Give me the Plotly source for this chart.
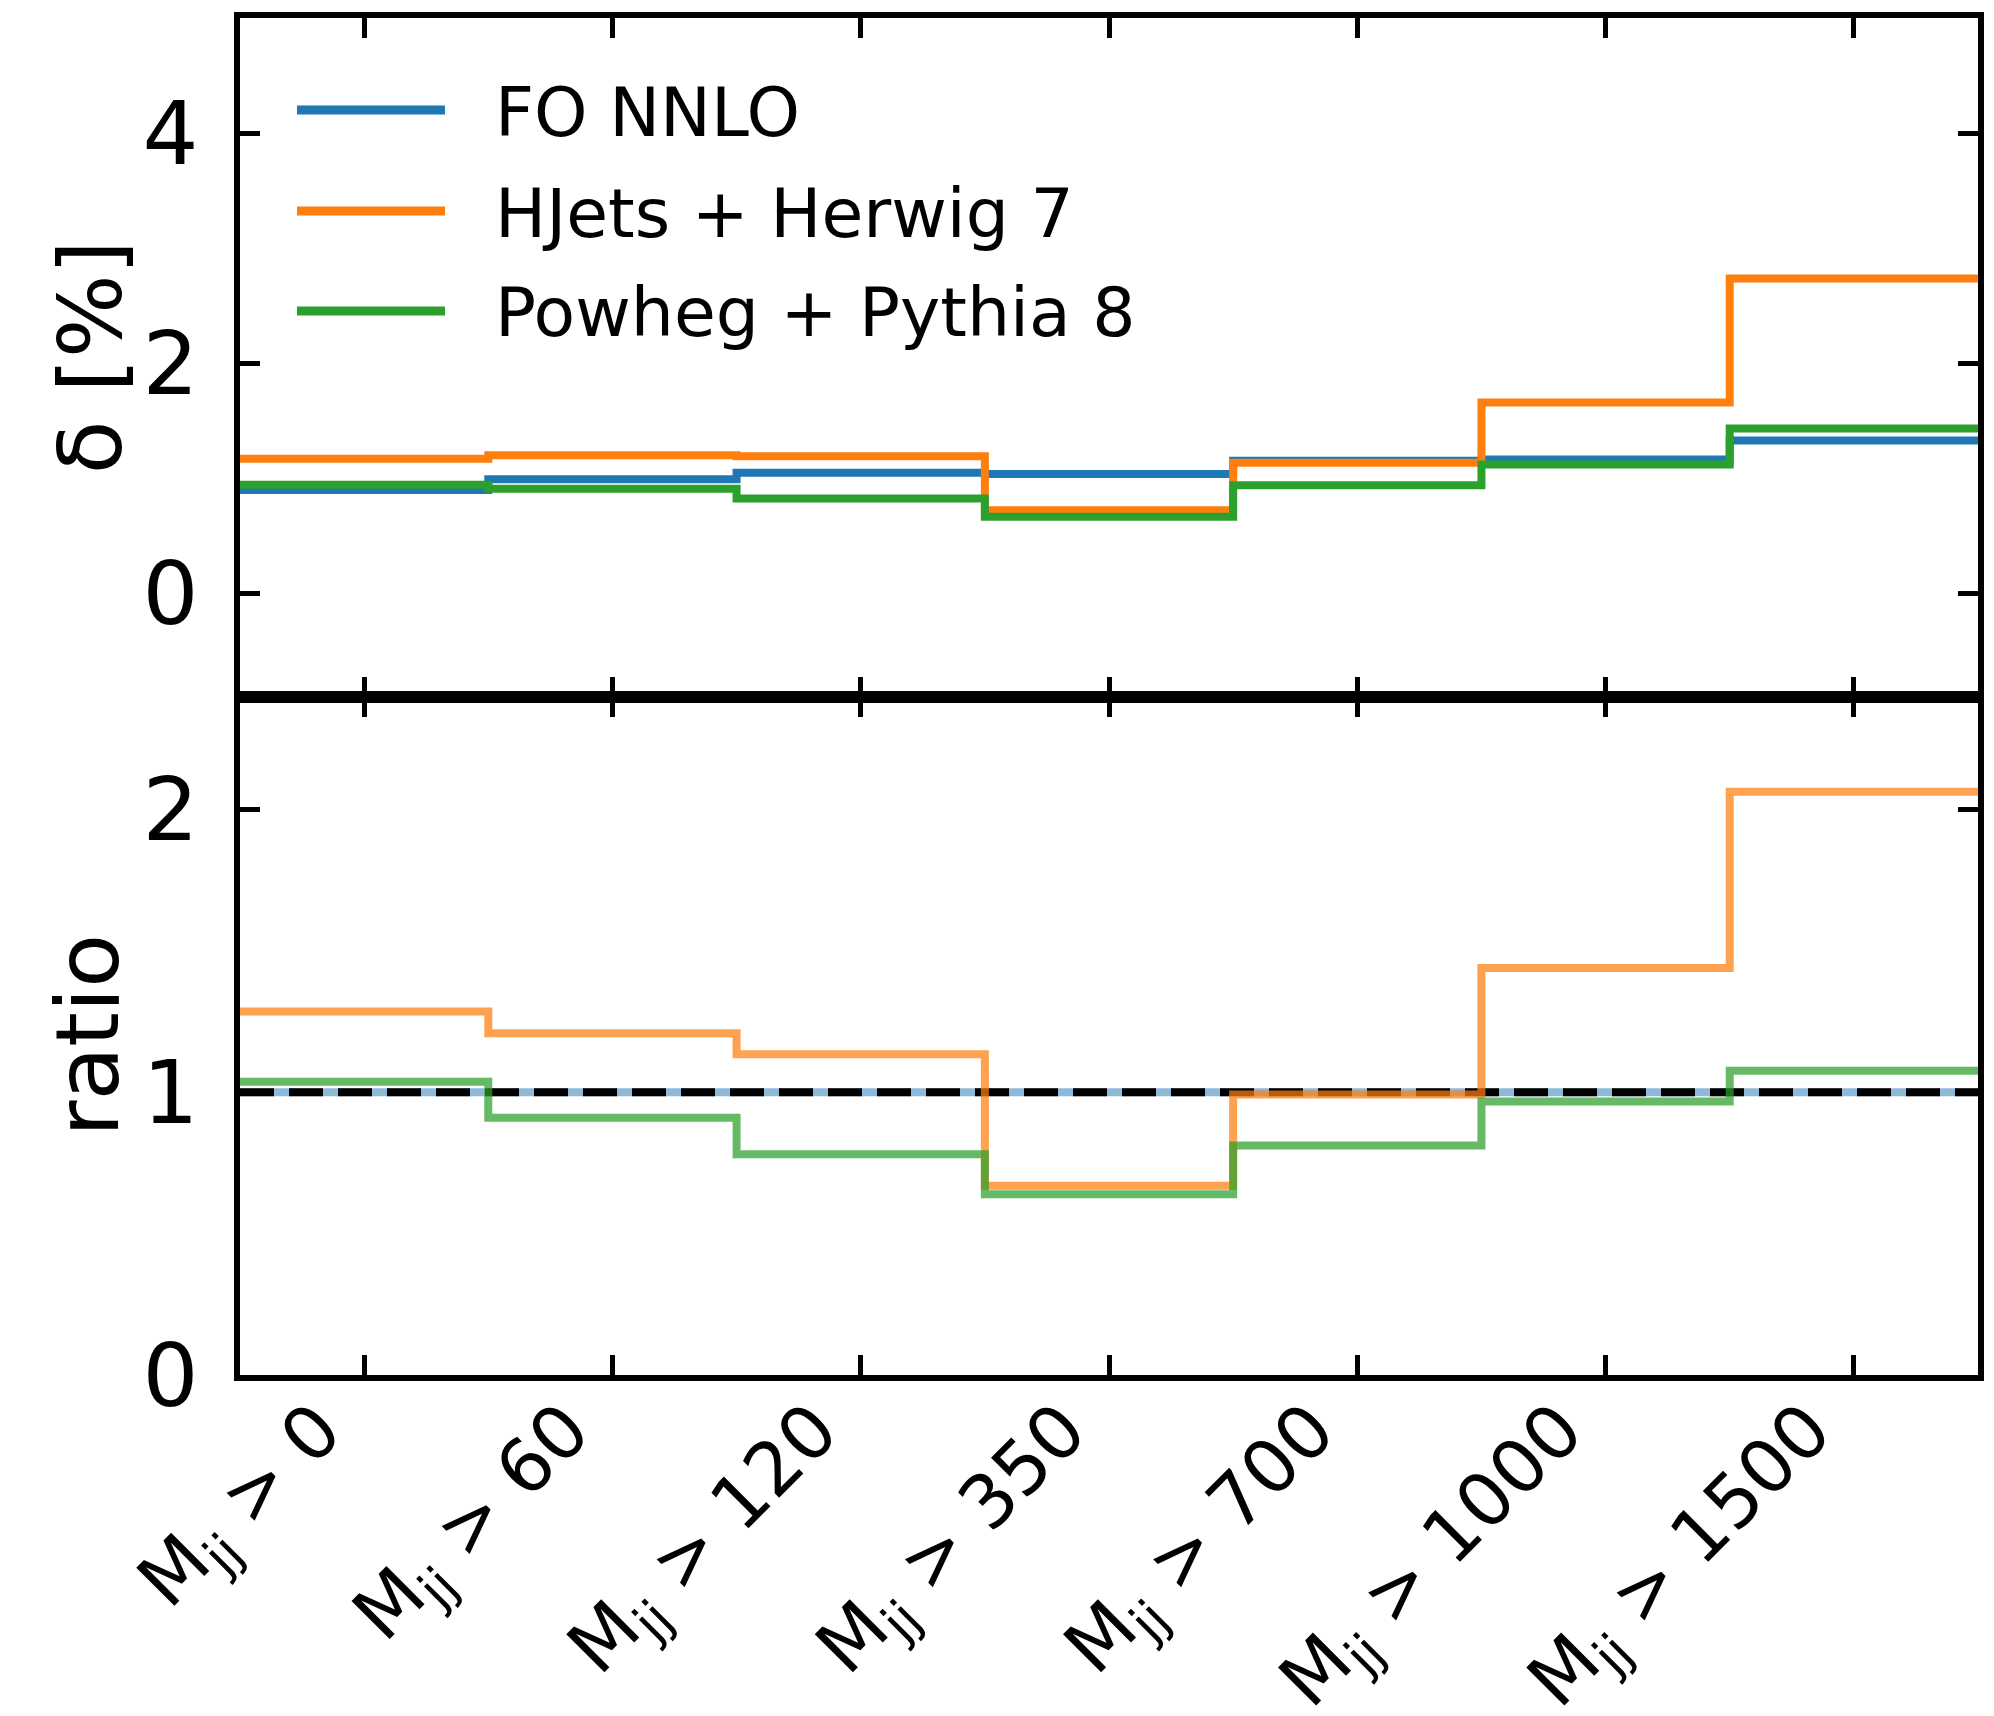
import numpy as np
import plotly.graph_objects as go

# ---------------- data ----------------
cut_values = ["0", "60", "120", "350", "700", "1000", "1500"]
tick_labels = ["M<sub>jj</sub> &gt; " + c for c in cut_values]

series_names = ["FO NNLO", "HJets + Herwig 7", "Powheg + Pythia 8"]

# delta [%]
delta_fo = [0.895, 0.99, 1.046, 1.035, 1.15, 1.16, 1.326]
delta_hjets = [1.167, 1.198, 1.19, 0.72, 1.132, 1.656, 2.735]
delta_powheg = [0.942, 0.907, 0.821, 0.662, 0.938, 1.117, 1.431]

# ratio to FO NNLO
ratio_fo = [1.0, 1.0, 1.0, 1.0, 1.0, 1.0, 1.0]
ratio_hjets = [1.286, 1.209, 1.135, 0.669, 0.992, 1.44, 2.063]
ratio_powheg = [1.037, 0.91, 0.781, 0.639, 0.812, 0.967, 1.076]
ref_level = 1.0

# ---------------- style ----------------
W, H = 1994, 1716
ML, MR, MT, MB = 240, 16, 18, 341
FONT = "DejaVu Sans"
C_BLUE, C_ORANGE, C_GREEN = "#1f77b4", "#ff7f0e", "#2ca02c"
LW = 8

n = len(cut_values)
centers = np.arange(n)
edges = np.concatenate([centers - 0.5, [centers[-1] + 0.5]])


def step_y(vals):
    v = list(vals)
    return v + [v[-1]]


def px_x(px):
    return (px - ML) / (W - ML - MR)


def px_y(py):
    return 1 - (py - MT) / (H - MT - MB)


fig = go.Figure()

# top panel
for vals, col, name in [(delta_fo, C_BLUE, series_names[0]),
                        (delta_hjets, C_ORANGE, series_names[1]),
                        (delta_powheg, C_GREEN, series_names[2])]:
    fig.add_trace(go.Scatter(x=edges, y=step_y(vals), mode="lines",
                             line=dict(color=col, width=LW, shape="hv"),
                             name=name, xaxis="x", yaxis="y", showlegend=False))

# bottom panel
fig.add_trace(go.Scatter(x=edges, y=step_y(ratio_fo), mode="lines",
                         line=dict(color=C_BLUE, width=LW, shape="hv"),
                         opacity=0.5, xaxis="x2", yaxis="y2", showlegend=False))
fig.add_trace(go.Scatter(x=[edges[0], edges[-1]], y=[ref_level, ref_level], mode="lines",
                         line=dict(color="black", width=LW, dash="34px,15px"),
                         xaxis="x2", yaxis="y2", showlegend=False))
fig.add_trace(go.Scatter(x=edges, y=step_y(ratio_hjets), mode="lines",
                         line=dict(color=C_ORANGE, width=LW, shape="hv"),
                         opacity=0.72, xaxis="x2", yaxis="y2", showlegend=False))
fig.add_trace(go.Scatter(x=edges, y=step_y(ratio_powheg), mode="lines",
                         line=dict(color=C_GREEN, width=LW, shape="hv"),
                         opacity=0.72, xaxis="x2", yaxis="y2", showlegend=False))

axis_common = dict(showline=True, linecolor="black", linewidth=6, mirror="ticks",
                   ticks="inside", ticklen=20, tickwidth=5, tickcolor="black",
                   showgrid=False, zeroline=False, automargin=False)

yfont = dict(family=FONT, size=88, color="black")
xfont = dict(family=FONT, size=74, color="black")

fig.update_layout(
    width=W, height=H,
    margin=dict(l=ML, r=MR, t=MT, b=MB),
    paper_bgcolor="white", plot_bgcolor="white",
    showlegend=False,
    xaxis=dict(domain=[0, 1], range=[-0.5, 6.5], anchor="y",
               tickvals=list(centers), ticktext=tick_labels, showticklabels=False,
               tickfont=xfont, **axis_common),
    yaxis=dict(domain=[0.5, 1], range=[-0.9, 5], anchor="x",
               tickvals=[0, 2, 4], ticklabelstandoff=18, tickfont=yfont, **axis_common),
    xaxis2=dict(domain=[0, 1], range=[-0.5, 6.5], anchor="y2",
                tickvals=list(centers), ticktext=tick_labels, tickangle=-45,
                ticklabelstandoff=-24, ticklabelshift=-45, tickfont=xfont, **axis_common),
    yaxis2=dict(domain=[0, 0.5], range=[0, 2.4], anchor="x2",
                tickvals=[0, 1, 2], ticklabelstandoff=18, tickfont=yfont, **axis_common),
)

# legend (drawn manually to mimic long legend handles)
leg_y = [110, 211, 311]
for yy, col, name in zip(leg_y, [C_BLUE, C_ORANGE, C_GREEN], series_names):
    fig.add_shape(type="line", xref="paper", yref="paper",
                  x0=px_x(297), x1=px_x(445), y0=px_y(yy), y1=px_y(yy),
                  line=dict(color=col, width=9))
    fig.add_annotation(xref="paper", yref="paper", x=px_x(493), y=px_y(yy + 2),
                       text=name, showarrow=False, xanchor="left", yanchor="middle",
                       font=dict(family=FONT, size=68, color="black"))

# axis titles
fig.add_annotation(xref="paper", yref="paper", x=px_x(90), y=0.75, text="δ [%]",
                   textangle=-90, showarrow=False, xanchor="center", yanchor="middle",
                   font=dict(family=FONT, size=88, color="black"))
fig.add_annotation(xref="paper", yref="paper", x=px_x(88), y=0.25, text="ratio",
                   textangle=-90, showarrow=False, xanchor="center", yanchor="middle",
                   font=dict(family=FONT, size=88, color="black"))

fig.write_html("out.html")
